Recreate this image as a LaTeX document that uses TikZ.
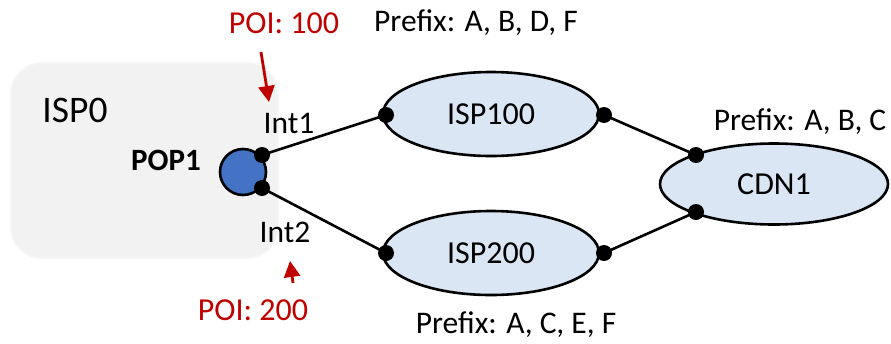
\documentclass[tikz,border=0pt]{standalone}
\usepackage{fontspec}
\setmainfont{Carlito}
\usetikzlibrary{shapes.geometric,arrows.meta}
\definecolor{boxgray}{HTML}{F2F2F2}
\definecolor{ellfill}{HTML}{DAE6F4}
\definecolor{popblue}{HTML}{4472C4}
\definecolor{poired}{HTML}{C00000}
\tikzset{
  lbl/.style={font=\fontsize{31.5}{36}\selectfont, inner sep=0pt, text=black},
  poi/.style={font=\fontsize{32}{36}\selectfont, inner sep=0pt, text=poired},
  ispell/.style={ellipse, draw=black, line width=2.6pt, fill=ellfill, inner sep=0pt, font=\fontsize{32}{36}\selectfont},
  port/.style={circle, fill=black, inner sep=0pt, minimum size=16pt},
  link/.style={line width=2.6pt, black},
  poiarrow/.style={poired, line width=2.8pt, -{Triangle[length=16pt,width=16pt]}}
}
\begin{document}
\begin{tikzpicture}[x=1pt,y=-1pt]
\useasboundingbox (0,0) rectangle (891,343);
% ISP0 box
\fill[boxgray!70!white, rounded corners=32pt] (10,62) rectangle (279,259);
\node[draw=none, fill=boxgray, rounded corners=30pt, minimum width=265pt, minimum height=193pt, inner sep=0pt] (isp0box) at (144.5,160.5) {};
\node[lbl, font=\fontsize{37.5}{42}\selectfont] (isp0) at (75,110) {ISP0};
\node[lbl, font=\bfseries\fontsize{31}{36}\selectfont] (pop1lbl) at (166,160) {POP1};
% POP1
\node[circle, draw=black, line width=2.6pt, fill=popblue, minimum size=46pt, inner sep=0pt] (pop1) at (243,172) {};
\node[port] (p1) at (262,155) {};
\node[port] (p2) at (262,188) {};
\node[lbl] (int1) at (289,123) {Int1};
\node[lbl] (int2) at (285,232) {Int2};
% ellipses
\node[ispell, minimum width=216pt, minimum height=84pt] (isp100) at (491,114) {ISP100};
\node[ispell, minimum width=216pt, minimum height=84pt] (isp200) at (491,253) {ISP200};
\node[ispell, minimum width=228pt, minimum height=81pt] (cdn1) at (774,184) {CDN1};
\node[port] (a1) at (386,115) {};
\node[port] (a2) at (604,115) {};
\node[port] (b1) at (386,253) {};
\node[port] (b2) at (604,253) {};
\node[port] (c1) at (696,155) {};
\node[port] (c2) at (696,212) {};
% links
\draw[link] (p1.center) -- (a1.center);
\draw[link] (p2.center) -- (b1.center);
\draw[link] (a2.center) -- (c1.center);
\draw[link] (b2.center) -- (c2.center);
% labels
\node[lbl] (pre100) at (476,23) {Prefix: A, B, D, F};
\node[lbl] (pre200) at (516,325) {Prefix: A, C, E, F};
\node[lbl] (precdn) at (800,122) {Prefix: A, B, C};
\node[poi] (poi100) at (284,23) {POI: 100};
\node[poi] (poi200) at (253,310) {POI: 200};
\coordinate (t1) at (261,52);
\coordinate (h1) at (269,102);
\coordinate (t2) at (293,283);
\coordinate (h2) at (290,261);
\draw[poiarrow] (t1) -- (h1);
\draw[poiarrow] (t2) -- (h2);
\end{tikzpicture}
\end{document}
